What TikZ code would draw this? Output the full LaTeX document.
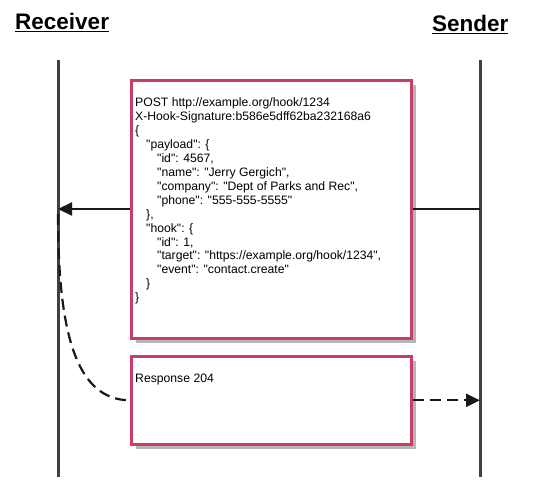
\documentclass[tikz,border=0pt]{standalone}
\usepackage{fontspec}
\setmainfont{Liberation Sans}[Ligatures=TeXOff]
\usetikzlibrary{arrows.meta,shadows}
\definecolor{boxred}{RGB}{200,62,100}
\definecolor{lifegray}{RGB}{64,64,64}
\definecolor{shadowgray}{RGB}{182,182,182}
\tikzset{
  lifeline/.style={draw=lifegray, line width=3pt},
  msgbox/.style={rectangle, draw=boxred, line width=2.6pt, fill=white, inner sep=0pt,
    anchor=north west, minimum width=280pt,
    drop shadow={shadow xshift=4.5pt, shadow yshift=-4.5pt, fill=shadowgray, opacity=1}},
  msgtext/.style={anchor=north west, inner sep=0pt, align=left, font=\fontsize{12.2}{13.95}\selectfont},
  title/.style={anchor=base west, inner sep=0pt, font=\fontsize{22.5}{27}\selectfont\bfseries},
  call/.style={draw=black!90, line width=2.2pt, -{Triangle[length=14pt,width=13pt]}},
  reply/.style={call, dash pattern=on 11pt off 6pt},
  replycurve/.style={draw=black!90, line width=2.2pt, dash pattern=on 11pt off 6pt},
}
\begin{document}
\begin{tikzpicture}[x=1pt,y=-1pt]
\useasboundingbox (0,0) rectangle (540,487);
% titles
\node[title] (recvtitle) at (15,30) {\underline{Receiver}};
\node[title] (sendtitle) at (432,32) {\underline{Sender}};
% lifelines
\coordinate (rtop) at (58,60);
\coordinate (rbot) at (58,477);
\coordinate (stop) at (480,60);
\coordinate (sbot) at (480,477);
\draw[lifeline] (rtop) -- (rbot);
\draw[lifeline] (stop) -- (sbot);
% message boxes
\node[msgbox, minimum height=258pt] (request) at (130,79) {};
\node[msgbox, minimum height=88pt] (response) at (130,355) {};
\node[msgtext] (reqtext) at (135,97.5) {POST http://example.org/hook/1234\\
X-Hook-Signature:b586e5dff62ba232168a6\\
\{\\
\hspace*{11pt}"payload": \{\\
\hspace*{22pt}"id": 4567,\\
\hspace*{22pt}"name": "Jerry Gergich",\\
\hspace*{22pt}"company": "Dept of Parks and Rec",\\
\hspace*{22pt}"phone": "555-555-5555"\\
\hspace*{11pt}\},\\
\hspace*{11pt}"hook": \{\\
\hspace*{22pt}"id": 1,\\
\hspace*{22pt}"target": "https://example.org/hook/1234",\\
\hspace*{22pt}"event": "contact.create"\\
\hspace*{11pt}\}\\
\}};
\node[msgtext] (restext) at (135,374) {Response 204};
% request
\coordinate (s1) at (480,209);
\coordinate (r1) at (58,209);
\draw[call, -] (s1) -- (request.east |- s1);
\draw[call] (request.west |- r1) -- (r1);
% response
\coordinate (r2) at (58,214);
\draw[replycurve] (r2) .. controls (58,330) and (75,400) .. (response.west);
\draw[reply] (response.east) -- (response.east -| sbot);
\end{tikzpicture}
\end{document}
